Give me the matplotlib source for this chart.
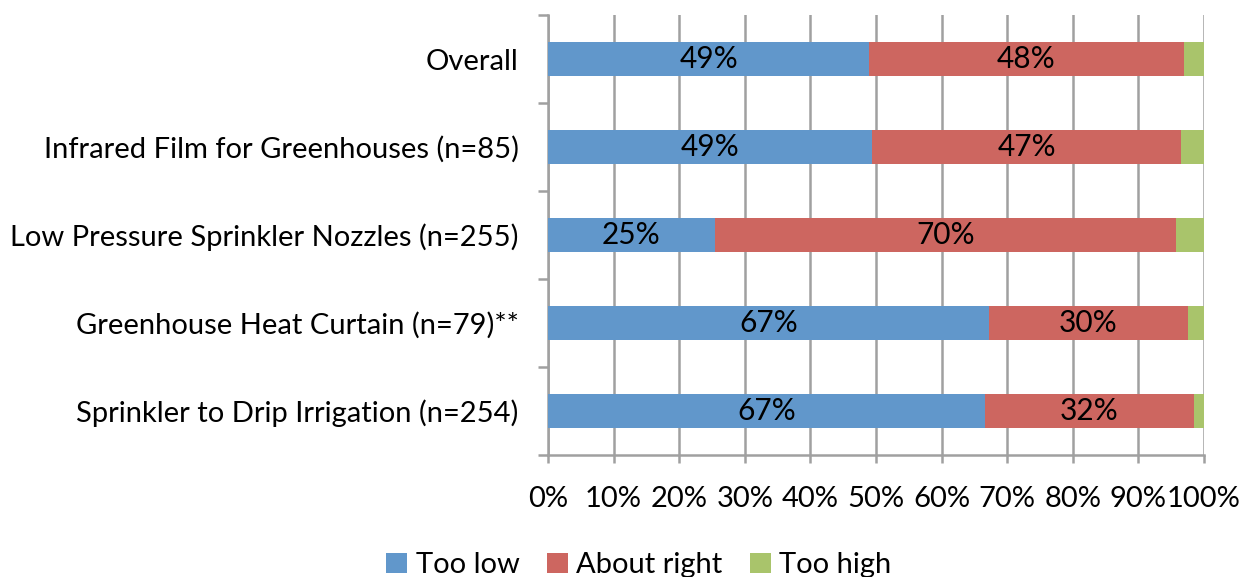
import matplotlib
matplotlib.use("Agg")
import matplotlib.pyplot as plt
import numpy as np

# Survey responses: share of respondents per rating, by measure
categories = [
    "Overall",
    "Infrared Film for Greenhouses (n=85)",
    "Low Pressure Sprinkler Nozzles (n=255)",
    "Greenhouse Heat Curtain (n=79)**",
    "Sprinkler to Drip Irrigation (n=254)",
]
too_low = [49.0, 49.4, 25.4, 67.2, 66.6]
about_right = [47.9, 47.1, 70.3, 30.4, 31.9]
too_high = [3.1, 3.5, 4.3, 2.4, 1.5]

series_names = ["Too low", "About right", "Too high"]
colors = ["#6197CB", "#CD6660", "#A9C46B"]
x_ticks = np.arange(0, 101, 10)
x_tick_labels = [f"{t}%" for t in x_ticks]

plt.rcParams["font.family"] = ["Lato", "DejaVu Sans"]

W, H = 1242, 577
fig = plt.figure(figsize=(W / 100, H / 100), dpi=100)
ax = fig.add_axes([548 / W, 1 - 455 / H, (1204 - 548) / W, (455 - 15) / H])

y = np.arange(len(categories))
left = np.zeros(len(categories))
for vals, name, col in zip([too_low, about_right, too_high], series_names, colors):
    vals = np.array(vals)
    ax.barh(y, vals, left=left, height=0.39, color=col, label=name, zorder=3)
    if name != "Too high":
        for yi, l, v in zip(y, left, vals):
            ax.text(l + v / 2, yi, f"{v:.0f}%", ha="center", va="center",
                    fontsize=21.5, color="black", zorder=4)
    left += vals

ax.set_xlim(0, 100)
ax.set_ylim(len(categories) - 0.5, -0.5)

ax.set_xticks(x_ticks)
ax.set_xticklabels(x_tick_labels, fontsize=21)
ax.set_yticks(y)
ax.set_yticklabels(categories, fontsize=21)
ax.set_yticks(np.arange(-0.5, len(categories), 1), minor=True)

grid_col = "#A0A0A0"
ax.xaxis.grid(True, color=grid_col, linewidth=1.8, zorder=0)
ax.yaxis.grid(False)
for s in ["top", "right"]:
    ax.spines[s].set_visible(False)
for s in ["left", "bottom"]:
    ax.spines[s].set_color(grid_col)
    ax.spines[s].set_linewidth(1.8)

ax.tick_params(axis="x", which="major", direction="out", length=6, width=1.8,
               color=grid_col, pad=16)
ax.tick_params(axis="y", which="major", length=0, pad=21)
ax.tick_params(axis="y", which="minor", direction="out", length=7, width=1.8,
               color=grid_col)

handles, labels = ax.get_legend_handles_labels()
fig.legend(handles, labels, loc="center", bbox_to_anchor=(639 / W, 1 - 565 / H),
           ncol=3, frameon=False, fontsize=21, handlelength=0.7,
           handleheight=0.7, handletextpad=0.3, columnspacing=0.95)

fig.savefig("out.png", dpi=100)
